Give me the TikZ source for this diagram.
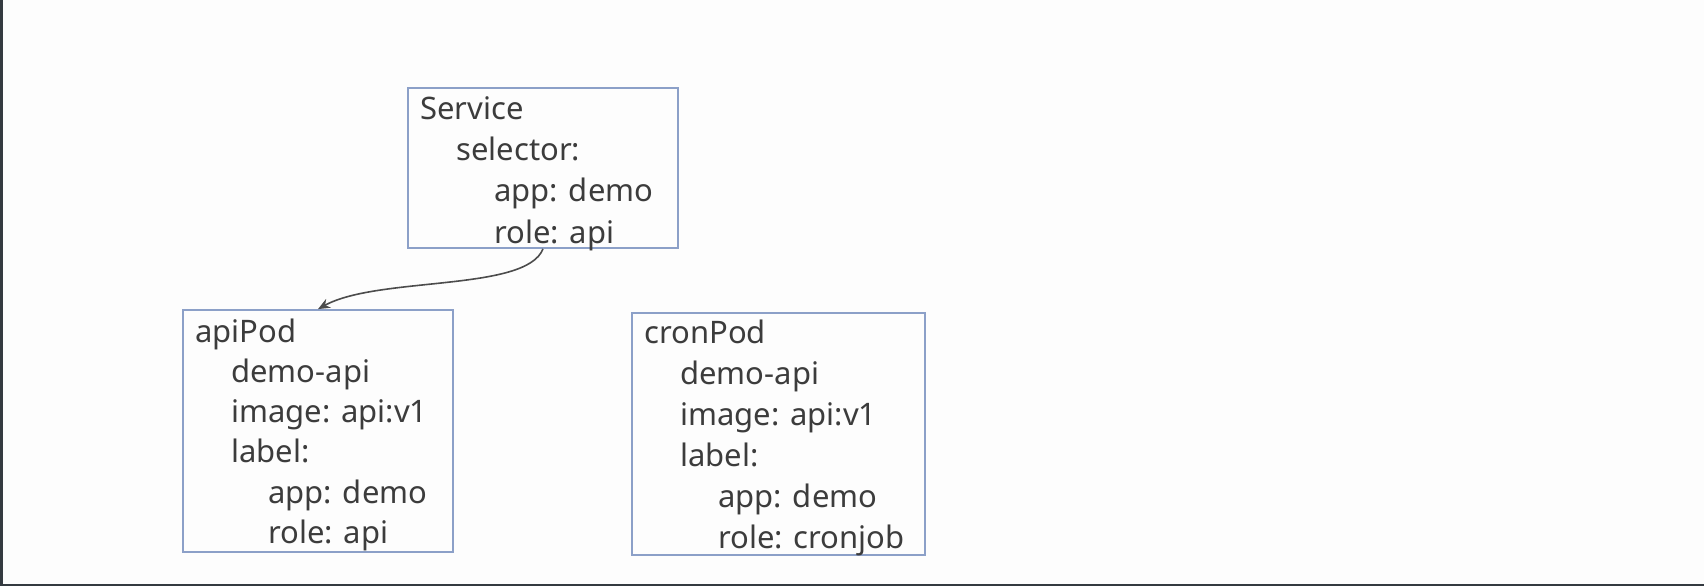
\documentclass[tikz,border=0pt]{standalone}
\usepackage{fontspec}
\setmainfont{Noto Sans}
\usetikzlibrary{arrows.meta}
\definecolor{boxc}{RGB}{140,160,200}
\definecolor{txtc}{RGB}{60,60,60}
\definecolor{edgec}{RGB}{52,58,64}
\definecolor{bgc}{RGB}{253,253,253}
\begin{document}
\begin{tikzpicture}[x=0.5pt,y=-0.5pt,
  box/.style={draw=boxc, line width=0.9pt, inner sep=0pt, rectangle},
  txt/.style={anchor=base west, inner sep=0pt, text=txtc, font=\fontsize{15.5pt}{19pt}\selectfont},
  conn/.style={draw=black!70, line width=0.8pt, -{Stealth[length=6pt,width=5pt]}}]
\useasboundingbox (0,0) rectangle (1704,586);
\fill[bgc] (0,0) rectangle (1704,586);
\fill[edgec] (0,0) rectangle (3,586);
\fill[edgec] (0,583.5) rectangle (1704,586);
% boxes
\node[box, minimum width=135pt, minimum height=80pt] (svc) at (543,168) {};
\node[box, minimum width=135pt, minimum height=121pt] (api) at (318,431) {};
\node[box, minimum width=146.5pt, minimum height=121pt] (cron) at (778.5,434) {};
% service text
\node[txt] (s1) at (420,119) {Service};
\node[txt] (s2) at (456,160.3) {selector:};
\node[txt] (s3) at (494,201.6) {app: demo};
\node[txt] (s4) at (494,243) {role: api};
% apiPod text
\node[txt] (a1) at (195,342) {apiPod};
\node[txt] (a2) at (231,382.3) {demo-api};
\node[txt] (a3) at (231,422.6) {image: api:v1};
\node[txt] (a4) at (231,462.9) {label:};
\node[txt] (a5) at (268,503.2) {app: demo};
\node[txt] (a6) at (268,543.5) {role: api};
% cronPod text
\node[txt] (c1) at (644,343.5) {cronPod};
\node[txt] (c2) at (680,384.4) {demo-api};
\node[txt] (c3) at (680,425.3) {image: api:v1};
\node[txt] (c4) at (680,466.2) {label:};
\node[txt] (c5) at (718,507.1) {app: demo};
\node[txt] (c6) at (718,548) {role: cronjob};
% connector
\draw[conn] (svc.south) .. controls (526,292) and (378,276) .. (api.north);
\end{tikzpicture}
\end{document}
